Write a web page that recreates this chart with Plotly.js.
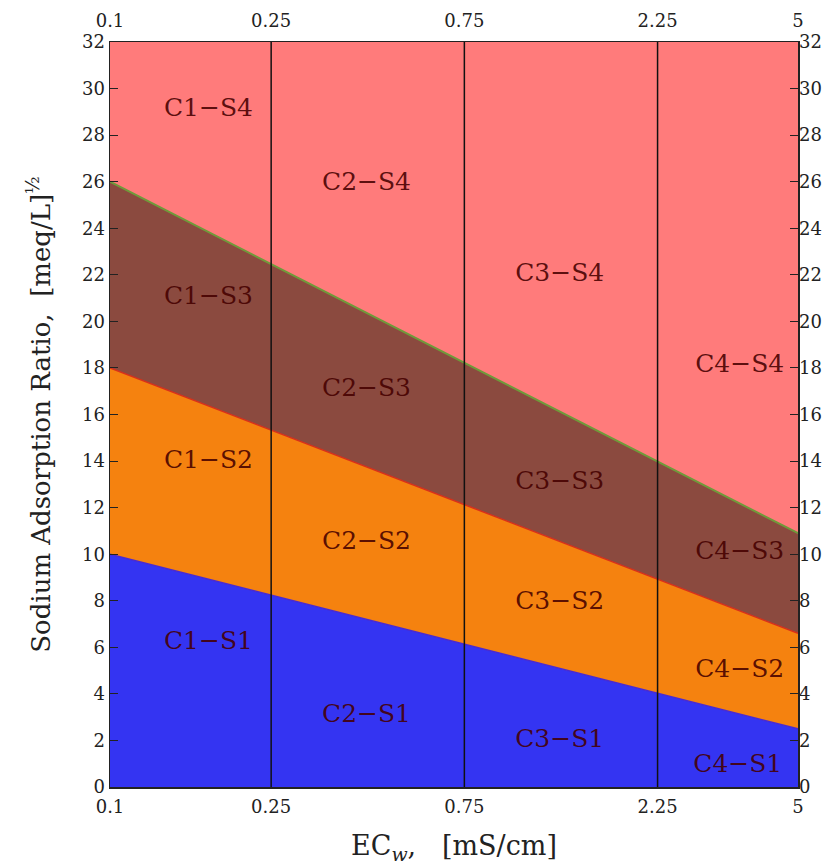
<!DOCTYPE html>
<html>
<head>
<meta charset="utf-8">
<script src="https://cdn.plot.ly/plotly-3.0.1.min.js"></script>
<style>body{margin:0;background:#fff}#plot{width:830px;height:867px}</style>
</head>
<body>
<div id="plot"></div>
<script>
// Boundary lines (EC in mS/cm, SAR)
const ecEnds = [0.1, 5];
const s1Upper = [10, 2.5];
const s2Upper = [18, 6.6];
const s3Upper = [26, 10.9];
const s4Upper = [32, 32];
const classDividers = [0.25, 0.75, 2.25];
const sarRange = [0, 32];
const xTickVals = [0.1, 0.25, 0.75, 2.25, 5];
const xTickText = ['0.1', '0.25', '0.75', '2.25', '5'];

// Region labels
const labelText = ['C1−S4','C2−S4','C3−S4','C4−S4',
                   'C1−S3','C2−S3','C3−S3','C4−S3',
                   'C1−S2','C2−S2','C3−S2','C4−S2',
                   'C1−S1','C2−S1','C3−S1','C4−S1'];
const labelX = [0.175,0.43,1.29,3.59,
                0.175,0.43,1.29,3.59,
                0.175,0.43,1.29,3.59,
                0.175,0.43,1.29,3.55];
const labelY = [29.1,25.9,22.0,18.1,
                21.0,17.05,13.06,10.05,
                13.96,10.5,7.9,5.0,
                6.2,3.05,2.0,0.9];

const serif = 'DejaVu Serif';

const traces = [
  {x: ecEnds, y: s1Upper, mode: 'lines', fill: 'tozeroy', fillcolor: '#3434f2',
   line: {color: '#4a2ad0', width: 1.5}, hoverinfo: 'skip', showlegend: false},
  {x: ecEnds, y: s2Upper, mode: 'lines', fill: 'tonexty', fillcolor: '#f5820f',
   line: {color: '#d8301a', width: 1.5}, hoverinfo: 'skip', showlegend: false},
  {x: ecEnds, y: s3Upper, mode: 'lines', fill: 'tonexty', fillcolor: '#8b4a3f',
   line: {color: '#6f9a3a', width: 2}, hoverinfo: 'skip', showlegend: false},
  {x: ecEnds, y: s4Upper, mode: 'lines', fill: 'tonexty', fillcolor: '#ff7b7b',
   line: {color: 'rgba(0,0,0,0)', width: 0}, hoverinfo: 'skip', showlegend: false}
];
classDividers.forEach(function (d) {
  traces.push({x: [d, d], y: sarRange, mode: 'lines',
    line: {color: '#111', width: 1.5}, hoverinfo: 'skip', showlegend: false});
});
traces.push({x: labelX, y: labelY, text: labelText, mode: 'text',
  textfont: {family: serif, size: 25, color: 'rgba(70,0,0,0.88)'},
  hoverinfo: 'skip', showlegend: false});
// invisible trace for the mirrored label axes
traces.push({x: ecEnds, y: sarRange, xaxis: 'x2', yaxis: 'y2', mode: 'markers',
  marker: {opacity: 0}, hoverinfo: 'skip', showlegend: false});

const tickFont = {family: serif, size: 18, color: '#222'};
const layout = {
  width: 830, height: 867,
  margin: {l: 110, r: 32, t: 42, b: 80},
  paper_bgcolor: '#fff', plot_bgcolor: '#fff',
  font: {family: serif},
  xaxis: {type: 'log', range: [Math.log10(0.1), Math.log10(5)],
    tickvals: xTickVals, ticktext: xTickText, ticks: '', tickfont: tickFont,
    ticklabelstandoff: 3,
    showgrid: false, zeroline: false, showline: true, linecolor: '#222', linewidth: 1.5,
    mirror: true,
    title: {text: 'EC<sub><i>w</i></sub>,   [mS/cm]', font: {family: serif, size: 27, color: '#222'}, standoff: 20}},
  xaxis2: {type: 'log', range: [Math.log10(0.1), Math.log10(5)], overlaying: 'x', side: 'top',
    matches: 'x', tickvals: xTickVals, ticktext: xTickText, ticks: '', tickfont: tickFont,
    ticklabelstandoff: 10,
    showgrid: false, zeroline: false, showline: false},
  yaxis: {range: sarRange, dtick: 2, tick0: 0, ticks: 'inside', ticklen: 8, tickcolor: '#222',
    tickfont: tickFont, showgrid: false, zeroline: false, showline: true, linecolor: '#222',
    linewidth: 1.5, mirror: true,
    title: {text: 'Sodium Adsorption Ratio,  [meq/L]<sup>½</sup>', font: {family: serif, size: 26, color: '#222'}, standoff: 24}},
  yaxis2: {range: sarRange, dtick: 2, tick0: 0, overlaying: 'y', side: 'right', matches: 'y',
    ticks: 'inside', ticklen: 8, tickcolor: '#222', tickfont: tickFont,
    showgrid: false, zeroline: false, showline: false}
};

Plotly.newPlot('plot', traces, layout, {displayModeBar: false, staticPlot: true});
</script>
</body>
</html>
